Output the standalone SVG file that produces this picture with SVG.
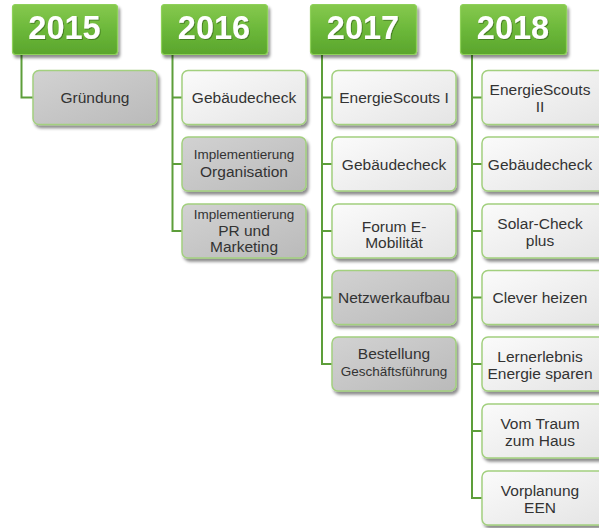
<svg xmlns="http://www.w3.org/2000/svg" width="599" height="528" viewBox="0 0 599 528">
<defs>
<linearGradient id="gHead" x1="0" y1="0" x2="0" y2="1">
<stop offset="0" stop-color="#86c94e"/>
<stop offset="0.5" stop-color="#6cb83a"/>
<stop offset="1" stop-color="#5aa52c"/>
</linearGradient>
<linearGradient id="gWhite" x1="0" y1="0" x2="1" y2="1">
<stop offset="0" stop-color="#fbfbfb"/>
<stop offset="1" stop-color="#e4e4e4"/>
</linearGradient>
<linearGradient id="gGray" x1="0" y1="0" x2="1" y2="1">
<stop offset="0" stop-color="#d2d2d2"/>
<stop offset="1" stop-color="#bababa"/>
</linearGradient>
<filter id="sh" x="-10%" y="-10%" width="125%" height="135%">
<feDropShadow dx="2" dy="3" stdDeviation="1.5" flood-color="#000" flood-opacity="0.45"/>
</filter>
<filter id="tsh" x="-10%" y="-10%" width="130%" height="130%">
<feDropShadow dx="1" dy="1" stdDeviation="0.6" flood-color="#2d5a12" flood-opacity="0.6"/>
</filter>
</defs>
<style>
.head rect{fill:url(#gHead);stroke:#8fd15a;stroke-width:1.2;filter:url(#sh)}
.head text{font-family:"Liberation Sans",Arial,sans-serif;font-weight:bold;font-size:32.5px;fill:#fff;text-anchor:middle;filter:url(#tsh)}
.w rect{fill:url(#gWhite);stroke:#a3d07f;stroke-width:1.5;filter:url(#sh)}
.g rect{fill:url(#gGray);stroke:#a3d07f;stroke-width:1.5;filter:url(#sh)}
.n text{font-family:"Liberation Sans",Arial,sans-serif;font-size:15.5px;fill:#333;text-anchor:middle}
.n text .s{font-size:13.5px}
.conn path{fill:none;stroke:#5d9e3a;stroke-width:2}
</style>
<rect width="599" height="528" fill="#fff"/>
<g class="conn">
<path d="M21.5 55 V97.5 H33"/>
<path d="M172.5 55 V231 H182 M172.5 97.5 H182 M172.5 164 H182"/>
<path d="M322 55 V364 H332 M322 97.5 H332 M322 164 H332 M322 231 H332 M322 297.5 H332"/>
<path d="M472 55 V498 H482 M472 97.5 H482 M472 164 H482 M472 231 H482 M472 297.5 H482 M472 364 H482 M472 431 H482"/>
</g>
<g id="h2015" class="head"><rect x="12.5" y="4.5" width="105" height="50" rx="3"/><text x="64.5" y="38.5">2015</text></g>
<g id="h2016" class="head"><rect x="161.5" y="4.5" width="106" height="50" rx="3"/><text x="214" y="38.5">2016</text></g>
<g id="h2017" class="head"><rect x="310.5" y="4.5" width="106" height="50" rx="3"/><text x="363" y="38.5">2017</text></g>
<g id="h2018" class="head"><rect x="460.5" y="4.5" width="106" height="50" rx="3"/><text x="513" y="38.5">2018</text></g>

<g id="n15a" class="n g"><rect x="33" y="70.5" width="124" height="54" rx="6"/><text x="95" y="103">Gründung</text></g>

<g id="n16a" class="n w"><rect x="182" y="70.5" width="124" height="54" rx="6"/><text x="244" y="103">Gebäudecheck</text></g>
<g id="n16b" class="n g"><rect x="182" y="137" width="124" height="54" rx="6"/><text x="244" y="159"><tspan class="s">Implementierung</tspan><tspan x="244" y="177">Organisation</tspan></text></g>
<g id="n16c" class="n g"><rect x="182" y="204" width="124" height="54" rx="6"/><text x="244" y="219"><tspan class="s">Implementierung</tspan><tspan x="244" y="236">PR und</tspan><tspan x="244" y="252">Marketing</tspan></text></g>

<g id="n17a" class="n w"><rect x="332" y="70.5" width="124" height="54" rx="6"/><text x="394" y="103">EnergieScouts I</text></g>
<g id="n17b" class="n w"><rect x="332" y="137" width="124" height="54" rx="6"/><text x="394" y="169.5">Gebäudecheck</text></g>
<g id="n17c" class="n w"><rect x="332" y="204" width="124" height="54" rx="6"/><text x="394" y="231.5">Forum E-<tspan x="394" y="248">Mobilität</tspan></text></g>
<g id="n17d" class="n g"><rect x="332" y="270.5" width="124" height="54" rx="6"/><text x="394" y="303">Netzwerkaufbau</text></g>
<g id="n17e" class="n g"><rect x="332" y="337" width="124" height="54" rx="6"/><text x="394" y="359">Bestellung<tspan class="s" x="394" y="376">Geschäftsführung</tspan></text></g>

<g id="n18a" class="n w"><rect x="482" y="70.5" width="124" height="54" rx="6"/><text x="540" y="95">EnergieScouts<tspan x="540" y="111.5">II</tspan></text></g>
<g id="n18b" class="n w"><rect x="482" y="137" width="124" height="54" rx="6"/><text x="540" y="169.5">Gebäudecheck</text></g>
<g id="n18c" class="n w"><rect x="482" y="204" width="124" height="54" rx="6"/><text x="540" y="229">Solar-Check<tspan x="540" y="245.5">plus</tspan></text></g>
<g id="n18d" class="n w"><rect x="482" y="270.5" width="124" height="54" rx="6"/><text x="540" y="303">Clever heizen</text></g>
<g id="n18e" class="n w"><rect x="482" y="337" width="124" height="54" rx="6"/><text x="540" y="362">Lernerlebnis<tspan x="540" y="378.5">Energie sparen</tspan></text></g>
<g id="n18f" class="n w"><rect x="482" y="404" width="124" height="54" rx="6"/><text x="540" y="429">Vom Traum<tspan x="540" y="445.5">zum Haus</tspan></text></g>
<g id="n18g" class="n w"><rect x="482" y="471" width="124" height="54" rx="6"/><text x="540" y="496">Vorplanung<tspan x="540" y="512.5">EEN</tspan></text></g>
</svg>
